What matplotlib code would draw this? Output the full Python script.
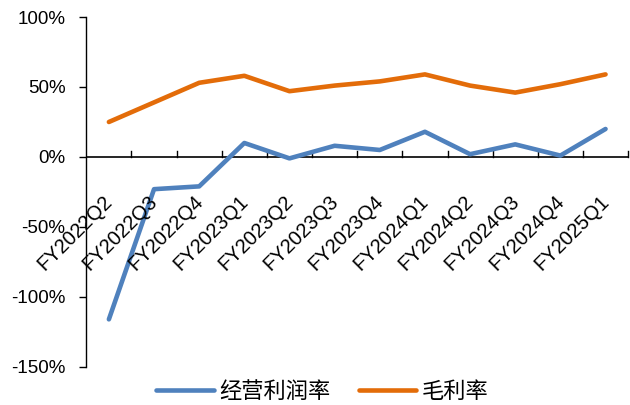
import numpy as np
import matplotlib
matplotlib.use("Agg")
import matplotlib.pyplot as plt
import matplotlib.transforms as mtransforms

plt.rcParams['font.family'] = ['Liberation Sans', 'Noto Sans CJK SC', 'DejaVu Sans']

# %% data
quarters = ["FY2022Q2", "FY2022Q3", "FY2022Q4", "FY2023Q1", "FY2023Q2", "FY2023Q3",
            "FY2023Q4", "FY2024Q1", "FY2024Q2", "FY2024Q3", "FY2024Q4", "FY2025Q1"]
op_margin = [-116, -23, -21, 10, -1, 8, 5, 18, 2, 9, 1, 20]
gross_margin = [25, 39, 53, 58, 47, 51, 54, 59, 51, 46, 52, 59]

blue = "#4F81BD"
orange = "#E36C09"

# %% plot
fig = plt.figure(figsize=(6.3, 4.05), dpi=100)
ax = fig.add_axes([0.137, 0.094, 0.86, 0.864])

x = np.arange(len(quarters))
ax.plot(x, op_margin, color=blue, lw=3.3, label="经营利润率", solid_capstyle="round")
ax.plot(x, gross_margin, color=orange, lw=3.3, label="毛利率", solid_capstyle="round")

ax.set_xlim(-0.5, len(quarters) - 0.5)
ax.set_ylim(-150, 100)
ax.set_yticks([-150, -100, -50, 0, 50, 100])
ax.set_yticklabels([f"{v}%" for v in [-150, -100, -50, 0, 50, 100]], fontsize=13.5)
ax.tick_params(axis="y", direction="out", length=5, width=1, pad=10)

for s in ["top", "right", "bottom"]:
    ax.spines[s].set_visible(False)
ax.spines["left"].set_linewidth(1)

# x axis line at 0 with tick marks between categories
ax.axhline(0, color="black", lw=1.2, zorder=1)
ax.set_xticks([])
for b in np.arange(0.5, len(quarters), 1.0):
    ax.plot([b, b], [0, 4], color="black", lw=1, zorder=1, clip_on=False)

offset = mtransforms.ScaledTranslation(-6 / 100, -35 / 100, fig.dpi_scale_trans)
for i, q in enumerate(quarters):
    ax.text(i, 0, q, rotation=45, ha="right", va="top", fontsize=14.5,
            rotation_mode="anchor",
            transform=ax.transData + offset)

ax.legend(loc="center", bbox_to_anchor=(0.512, 0.032), bbox_transform=fig.transFigure,
          ncol=2, frameon=False, fontsize=16, handlelength=2.6, columnspacing=1.25,
          handletextpad=0.25)

fig.savefig("out.png", dpi=100)
